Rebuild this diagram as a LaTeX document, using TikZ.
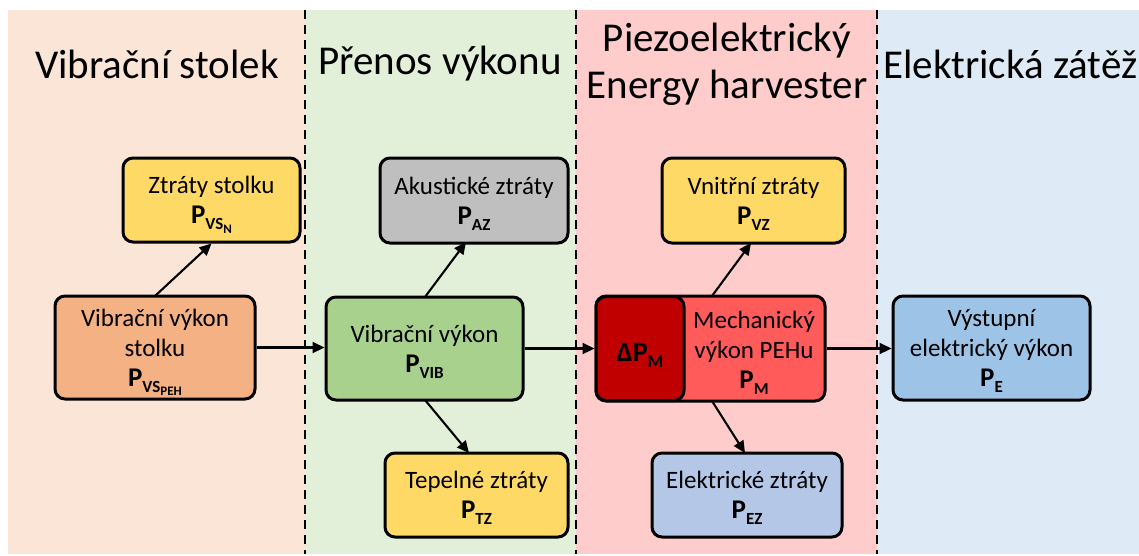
\documentclass[tikz,border=0pt]{standalone}
\usepackage{fontspec}
\setmainfont{Carlito}
\usetikzlibrary{arrows.meta}
\definecolor{bgor}{HTML}{FBE5D6}
\definecolor{bggr}{HTML}{E2F0D9}
\definecolor{bgpk}{HTML}{FFCCCC}
\definecolor{bgbl}{HTML}{DEEBF7}
\definecolor{cyel}{HTML}{FFD966}
\definecolor{cora}{HTML}{F4B183}
\definecolor{cgry}{HTML}{BFBFBF}
\definecolor{cgrn}{HTML}{A9D18E}
\definecolor{cred}{HTML}{FF5B5B}
\definecolor{cdrd}{HTML}{C00000}
\definecolor{cblu}{HTML}{9DC3E6}
\definecolor{clbl}{HTML}{B4C7E7}
\newcommand{\Pw}[1]{{\fontsize{27}{30}\selectfont\bfseries P}\raisebox{-6pt}[\height][0pt]{\fontsize{17}{17}\selectfont\bfseries #1}}
\newcommand{\Sub}[1]{\raisebox{-3.5pt}[\height][0pt]{\fontsize{13}{13}\selectfont\bfseries #1}}
\begin{document}
\begin{tikzpicture}[x=1pt,y=-1pt,
  box/.style={draw=black,line width=3pt,rounded corners=10pt,align=center,
    font=\fontsize{25}{30}\selectfont,inner sep=0pt},
  conn/.style={line width=2.1pt,-{Triangle[length=12pt,width=11pt]}},
  sep/.style={line width=2.6pt,dash pattern=on 9pt off 6pt},
  head/.style={font=\fontsize{41}{46}\selectfont,align=center,inner sep=0pt}]
\useasboundingbox (0,0) rectangle (1139,555);
\fill[white] (0,0) rectangle (1139,555);
% backgrounds
\fill[bgor] (8,10) rectangle (305,554);
\fill[bggr] (305,10) rectangle (576,554);
\fill[bgpk] (576,10) rectangle (877,554);
\fill[bgbl] (877,10) rectangle (1139,554);
\draw[sep] (305,10) -- (305,554);
\draw[sep] (576,10) -- (576,554);
\draw[sep] (877,10) -- (877,554);
% headers
\node[head] (h1) at (157,64) {Vibrační stolek};
\node[head] (h2) at (440,64) {Přenos výkonu};
\node[head] (h3a) at (727,41) {Piezoelektrický};
\node[head] (h3b) at (727,88) {Energy harvester};
\node[head,anchor=west] (h4) at (883,64) {Elektrická zátěž};
% boxes
\node[box,fill=cyel,minimum width=177pt,minimum height=84pt] (zs) at (211.5,200) {Ztráty stolku\\\Pw{VS\Sub{N}}};
\node[box,fill=cora,minimum width=200pt,minimum height=103pt] (vvs) at (155,347.5) {Vibrační výkon\\stolku\\\Pw{VS\Sub{PEH}}};
\node[box,fill=cgry,minimum width=188pt,minimum height=85pt] (az) at (474,200.5) {Akustické ztráty\\\Pw{AZ}};
\node[box,fill=cgrn,minimum width=197pt,minimum height=103pt] (vib) at (424.5,348.5) {Vibrační výkon\\\Pw{VIB}};
\node[box,fill=cyel,minimum width=183pt,minimum height=84pt] (tz) at (476.5,495) {Tepelné ztráty\\\Pw{TZ}};
\node[box,fill=cyel,minimum width=183pt,minimum height=85pt] (vz) at (753.5,200.5) {Vnitřní ztráty\\\Pw{VZ}};
\node[box,fill=cred,minimum width=229pt,minimum height=105pt] (mech) at (710.5,348.5) {};
\node[box,fill=cdrd,minimum width=88pt,minimum height=104pt] (dpm) at (640,348.5) {};
\node[font=\fontsize{25}{30}\selectfont,align=center,inner sep=0pt] (mt) at (754,350) {Mechanický\\výkon PEHu\\\Pw{M}};
\node[inner sep=0pt] (dpt) at (640,352) {{\fontsize{28}{30}\selectfont\bfseries ΔP}\raisebox{-6pt}[\height][0pt]{\fontsize{18}{18}\selectfont\bfseries M}};
\node[box,fill=clbl,minimum width=190pt,minimum height=84pt] (ez) at (747,495) {Elektrické ztráty\\\Pw{EZ}};
\node[box,fill=cblu,minimum width=197pt,minimum height=104pt] (ve) at (991.5,348) {Výstupní\\elektrický výkon\\\Pw{E}};
% connectors
\draw[conn] (155,296) -- (zs.south);
\draw[conn] (vvs.east) -- (vib.west |- vvs.east);
\draw[conn] (425,297) -- (466,242);
\draw[conn] (425,400) -- (469,453);
\draw[conn] (vib.east) -- (mech.west |- vib.east);
\draw[conn] (712,296) -- (751,243);
\draw[conn] (712,401) -- (745,453);
\draw[conn] (mech.east) -- (ve.west |- mech.east);
\end{tikzpicture}
\end{document}
